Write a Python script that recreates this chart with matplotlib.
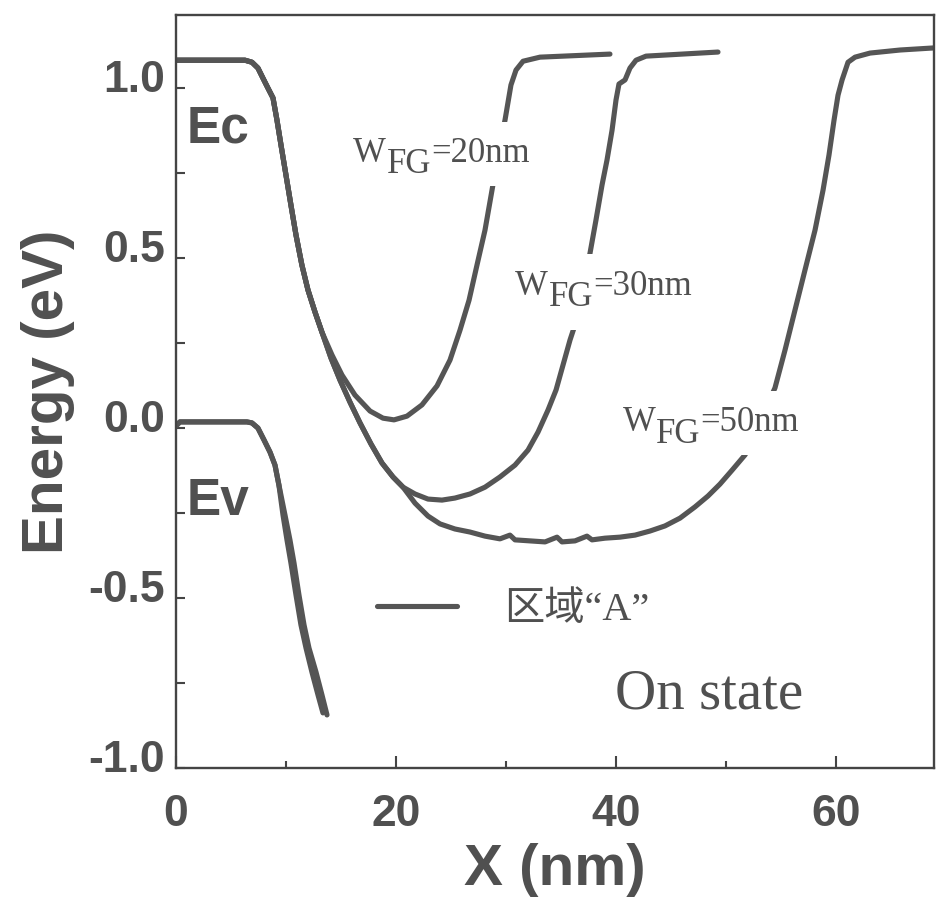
import matplotlib
matplotlib.use("Agg")
import matplotlib.pyplot as plt
import matplotlib.transforms as mtransforms
from matplotlib.lines import Line2D
from matplotlib.ticker import FixedLocator

# ---- band-edge data: position (nm) vs energy (eV) ----
# conduction band edge, common source side of all three devices
ec_common_x = [0.00, 6.27, 6.91, 7.45, 7.91, 8.36, 8.82, 9.18, 9.55, 10.00,
               10.45, 10.91, 11.45, 12.00, 12.64, 13.27]
ec_common_y = [1.082, 1.082, 1.076, 1.059, 1.029, 1.000, 0.971, 0.906, 0.832, 0.744,
               0.656, 0.568, 0.479, 0.406, 0.341, 0.282]

# W_FG = 20 nm branch
ec20_x = [14.18, 15.09, 16.27, 17.64, 18.82, 19.82, 21.00, 22.36, 23.73, 24.91,
          25.82, 26.64, 27.36, 28.09, 28.73, 29.36, 29.91, 30.45, 30.91, 31.55,
          33.09, 39.45]
ec20_y = [0.215, 0.156, 0.097, 0.050, 0.029, 0.024, 0.035, 0.068, 0.124, 0.200,
          0.288, 0.376, 0.479, 0.582, 0.700, 0.818, 0.906, 1.009, 1.053, 1.079,
          1.091, 1.100]

# part shared by the 30 nm and 50 nm devices
ec_wide_x = [14.09, 14.91, 15.82, 16.73, 17.73, 18.73, 19.73, 20.64]
ec_wide_y = [0.206, 0.141, 0.076, 0.015, -0.047, -0.103, -0.144, -0.174]

# W_FG = 30 nm branch
ec30_x = [21.73, 22.91, 24.18, 25.36, 26.73, 28.09, 29.45, 30.82, 32.00, 32.91,
          33.82, 34.55, 35.18, 35.82, 36.36, 37.00, 37.64, 38.18, 38.73, 39.18,
          39.64, 40.00, 40.27, 40.82, 41.27, 41.82, 42.73, 49.27]
ec30_y = [-0.194, -0.209, -0.212, -0.206, -0.194, -0.174, -0.144, -0.109, -0.065, -0.012,
          0.053, 0.112, 0.185, 0.259, 0.312, 0.406, 0.515, 0.612, 0.715, 0.788,
          0.876, 0.965, 1.012, 1.024, 1.059, 1.082, 1.094, 1.106]

# W_FG = 50 nm branch
ec50_x = [21.73, 22.91, 24.00, 25.36, 26.73, 28.09, 29.45, 30.36, 30.82, 32.18,
          33.55, 34.64, 35.09, 36.27, 37.36, 37.82, 39.00, 40.36, 41.73, 43.09,
          44.45, 45.82, 47.18, 48.36, 49.45, 50.55, 51.73, 52.64, 53.55, 54.45,
          55.36, 56.27, 57.18, 58.09, 58.82, 59.36, 59.82, 60.18, 60.55, 61.09,
          61.73, 63.09, 65.82, 68.82]
ec50_y = [-0.221, -0.259, -0.282, -0.297, -0.306, -0.318, -0.326, -0.315, -0.329, -0.332,
          -0.335, -0.321, -0.335, -0.332, -0.318, -0.329, -0.324, -0.321, -0.315, -0.303,
          -0.288, -0.265, -0.232, -0.200, -0.165, -0.124, -0.079, -0.021, 0.053, 0.118,
          0.229, 0.347, 0.465, 0.582, 0.700, 0.803, 0.906, 0.979, 1.024, 1.076,
          1.091, 1.103, 1.112, 1.118]

# valence band edge (two nearly coincident traces)
ev_a_x = [0.00, 0.36, 6.45, 6.91, 7.45, 8.00, 8.55, 9.00, 9.36, 9.73,
          10.09, 10.45, 10.91, 11.36, 11.82, 12.36, 12.91, 13.36]
ev_a_y = [0.006, 0.018, 0.018, 0.015, 0.000, -0.035, -0.071, -0.109, -0.168, -0.256,
          -0.329, -0.397, -0.491, -0.579, -0.647, -0.718, -0.785, -0.838]
ev_b_x = [9.91, 10.36, 10.73, 11.18, 11.64, 12.09, 12.73, 13.27, 13.73]
ev_b_y = [-0.256, -0.329, -0.397, -0.491, -0.579, -0.647, -0.718, -0.785, -0.844]

x_ticks = [0, 20, 40, 60]
x_minor = [10, 30, 50]
y_ticks = [-1.0, -0.5, 0.0, 0.5, 1.0]
y_minor = [-0.75, -0.25, 0.25, 0.75]
width_labels = [("20nm", 16.09, 0.782), ("30nm", 30.82, 0.391), ("50nm", 40.6, -0.01)]

INK = "#505050"
LINE = "#555555"
SANS_B = dict(family="Liberation Sans", weight="bold", color=INK)
SERIF = dict(family="Liberation Serif")

plt.rcParams["axes.unicode_minus"] = False

fig = plt.figure(figsize=(9.36, 8.98), dpi=100)
ax = fig.add_axes([0.188, 0.1448, 0.8098, 0.8385])
ax.set_xlim(0, 68.9)
ax.set_ylim(-1.0, 1.215)

line_kw = dict(color=LINE, lw=3.7, solid_capstyle="round", solid_joinstyle="round", zorder=2)

ec20_full_x = ec_common_x + ec20_x
ec20_full_y = ec_common_y + ec20_y
ec30_full_x = ec_common_x + ec_wide_x + ec30_x
ec30_full_y = ec_common_y + ec_wide_y + ec30_y
ec50_full_x = ec_common_x + ec_wide_x + ec50_x
ec50_full_y = ec_common_y + ec_wide_y + ec50_y
ev_b_full_x = ev_a_x[:9] + ev_b_x
ev_b_full_y = ev_a_y[:9] + ev_b_y

for xs, ys in [(ec20_full_x, ec20_full_y), (ec30_full_x, ec30_full_y),
               (ec50_full_x, ec50_full_y), (ev_a_x, ev_a_y), (ev_b_full_x, ev_b_full_y)]:
    ax.plot(xs, ys, **line_kw)

# axes frame and ticks
for sp in ax.spines.values():
    sp.set_color("#444444")
    sp.set_linewidth(1.7)

ax.xaxis.set_major_locator(FixedLocator(x_ticks))
ax.xaxis.set_minor_locator(FixedLocator(x_minor))
ax.yaxis.set_major_locator(FixedLocator(y_ticks))
ax.yaxis.set_minor_locator(FixedLocator(y_minor))
ax.set_xticklabels([str(v) for v in x_ticks])
ax.set_yticklabels([f"{v:.1f}" for v in y_ticks])
ax.tick_params(axis="both", which="both", direction="in", color="#444444", width=1.5)
ax.tick_params(axis="x", which="major", length=8.5, pad=19, labelsize=32, labelcolor=INK)
ax.tick_params(axis="x", which="minor", length=5)
ax.tick_params(axis="y", which="major", length=6.5, pad=8, labelsize=32, labelcolor=INK)
ax.tick_params(axis="y", which="minor", length=6.5)
for lab in ax.get_xticklabels() + ax.get_yticklabels():
    lab.set_fontfamily("Liberation Sans")
    lab.set_fontweight("bold")
lift = mtransforms.ScaledTranslation(0, 0.12, fig.dpi_scale_trans)
for lab in ax.get_yticklabels():
    lab.set_transform(lab.get_transform() + lift)

ax.set_xlabel("X (nm)", fontsize=42, **SANS_B)
ax.xaxis.set_label_coords(0.5, -0.10)
ax.set_ylabel("Energy (eV)", fontsize=42, **SANS_B)
ax.yaxis.set_label_coords(-0.133, 0.5)

# band labels
ax.text(1.0, 0.841, "Ec", fontsize=37, ha="left", va="baseline", **SANS_B)
ax.text(1.0, -0.256, "Ev", fontsize=37, ha="left", va="baseline", **SANS_B)


def width_label(lx, ly, width, color, bbox, z):
    """W with an FG subscript followed by '=<width>' as three chained texts."""
    t_w = ax.text(lx, ly, "W", fontsize=25, ha="left", va="baseline",
                  color=color, bbox=bbox, zorder=z, **SERIF)
    t_s = ax.annotate("FG", xy=(1, 0), xycoords=t_w, xytext=(0.5, -8),
                      textcoords="offset points", ha="left", va="bottom",
                      fontsize=25, color=color, bbox=bbox, zorder=z, **SERIF)
    ax.annotate("=" + width, xy=(1, 0), xycoords=t_s, xytext=(0, 8),
                textcoords="offset points", ha="left", va="bottom",
                fontsize=25, color=color, bbox=bbox, zorder=z, **SERIF)


# white patches that break the curves under each label, then the label text on top
box = dict(boxstyle="square,pad=0.45", fc="white", ec="none")
for width, lx, ly in width_labels:
    width_label(lx, ly, width, "white", box, 3)
    width_label(lx, ly, width, INK, None, 4)

# legend
handle = Line2D([], [], color=LINE, lw=3.7, solid_capstyle="round")
leg = ax.legend([handle], ["区域“A”"], loc="center left", bbox_to_anchor=(0.265, 0.209),
                frameon=False, handlelength=2.0, handletextpad=1.17, borderpad=0,
                borderaxespad=0,
                prop=dict(family=["Liberation Serif", "Noto Sans CJK SC"], size=29))
for t in leg.get_texts():
    t.set_color(INK)

ax.text(39.9, -0.824, "On state", fontsize=41, ha="left", va="baseline", color=INK, **SERIF)

fig.savefig("out.png", dpi=100, facecolor="white")
